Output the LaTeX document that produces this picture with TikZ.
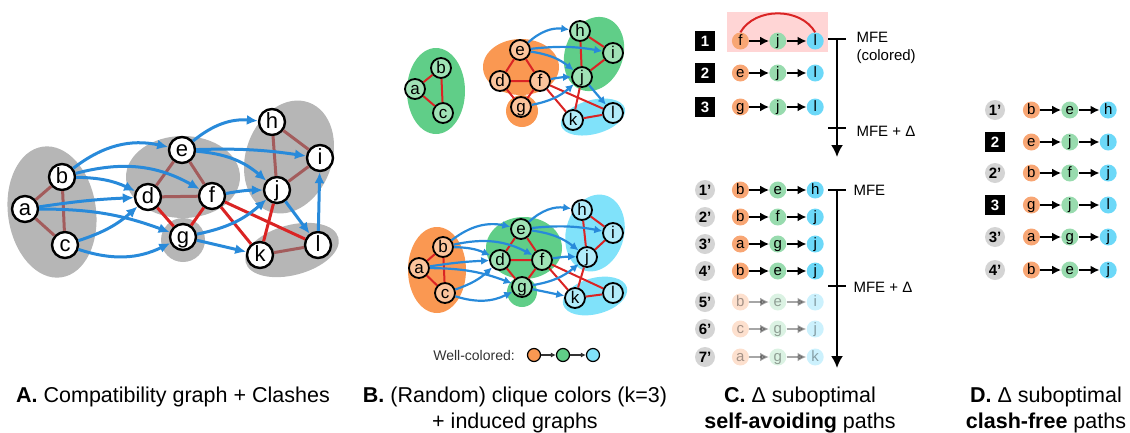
\documentclass[tikz,border=0pt]{standalone}
\usepackage{fontspec}
\setmainfont{Liberation Sans}
\usetikzlibrary{arrows.meta,positioning}
\definecolor{blobgray}{RGB}{182,182,182}
\definecolor{compedge}{RGB}{163,92,92}
\definecolor{clashred}{RGB}{218,36,36}
\definecolor{arcblue}{RGB}{40,138,218}
\definecolor{orangeblob}{RGB}{250,152,82}
\definecolor{greenblob}{RGB}{96,206,136}
\definecolor{cyanblob}{RGB}{128,226,250}
\definecolor{orangenode}{RGB}{251,196,156}
\definecolor{greennode}{RGB}{160,226,182}
\definecolor{cyannode}{RGB}{178,236,250}
\definecolor{pathorange}{RGB}{248,166,116}
\definecolor{pathgreen}{RGB}{152,219,174}
\definecolor{pathcyan}{RGB}{108,216,248}
\definecolor{mfepink}{RGB}{255,213,213}
\definecolor{ranklight}{RGB}{212,212,212}
\definecolor{legendtext}{RGB}{50,50,50}

\begin{document}
\begin{tikzpicture}[x=1pt,y=-1pt,
    vtx/.style={circle,draw,line width=2.4pt,fill=white,inner sep=0pt,minimum size=26pt,font=\fontsize{22}{22}\selectfont,text height=16pt,text depth=3pt},
    svtx/.style={circle,draw,line width=1.8pt,inner sep=0pt,minimum size=20pt,font=\fontsize{17}{17}\selectfont,text height=12.5pt,text depth=2.5pt},
    cmpedge/.style={line width=3pt,compedge},
    clashedge/.style={line width=3pt,clashred},
    bluearr/.style={-{Latex[length=11pt,width=10pt]},line width=3pt,arcblue},
    sclash/.style={line width=2pt,clashred},
    sblue/.style={-{Latex[length=8pt,width=8pt]},line width=2.2pt,arcblue},
    pathnode/.style={circle,inner sep=0pt,minimum size=17pt,font=\fontsize{15}{15}\selectfont,text height=11pt,text depth=2pt},
    patharr/.style={-{Latex[length=9pt,width=9pt]},line width=2.6pt},
    fadenode/.style={pathnode,opacity=0.35,text opacity=0.35},
    fadearr/.style={patharr,opacity=0.35},
    rankbox/.style={fill=black,text=white,minimum size=20pt,inner sep=0pt,font=\bfseries\fontsize{15}{15}\selectfont},
    rankcirc/.style={circle,fill=ranklight,minimum size=20pt,inner sep=0pt,font=\bfseries\fontsize{15}{15}\selectfont},
    timeline/.style={line width=2pt},
    mfelabel/.style={anchor=west,font=\fontsize{15}{18}\selectfont,align=left},
    legdot/.style={circle,draw,line width=1.2pt,minimum size=13pt,inner sep=0pt},
    legarr/.style={-{Latex[length=5pt,width=5pt]},line width=1.5pt,legendtext},
    paneltitle/.style={anchor=base,font=\fontsize{21.5}{26}\selectfont}
]
\useasboundingbox (0,0) rectangle (1130,432);

% A: compatibility graph
\fill[blobgray,rotate around={8:(52,212)}] (52,212) ellipse [x radius=44pt,y radius=66pt];
\fill[blobgray] (183,177) ellipse [x radius=57pt,y radius=41pt];
\fill[blobgray] (183,240) circle [radius=22pt];
\fill[blobgray,rotate around={-20:(289,157)}] (289,157) ellipse [x radius=43pt,y radius=58pt];
\fill[blobgray,rotate around={15:(292,250)}] (292,250) ellipse [x radius=48pt,y radius=25pt];

\node[vtx] (Aa) at (25,209) {a};
\node[vtx] (Ab) at (62,177) {b};
\node[vtx] (Ac) at (65,245) {c};
\node[vtx] (Ad) at (148,197) {d};
\node[vtx] (Ae) at (182,150) {e};
\node[vtx] (Af) at (212,196) {f};
\node[vtx] (Ag) at (183,237) {g};
\node[vtx] (Ah) at (272,122) {h};
\node[vtx] (Ai) at (320,158) {i};
\node[vtx] (Aj) at (277,190) {j};
\node[vtx] (Ak) at (260,255) {k};
\node[vtx] (Al) at (318,245) {l};

\draw[cmpedge] (Aa) -- (Ab) (Aa) -- (Ac) (Ab) -- (Ac) (Ad) -- (Ae) (Ae) -- (Af) (Ad) -- (Af) (Ah) -- (Ai) (Ah) -- (Aj) (Ai) -- (Aj) (Ak) -- (Al);
\draw[clashedge] (Ad) -- (Ag) (Af) -- (Ag) (Af) -- (Ak) (Af) -- (Al) (Aj) -- (Ak);

\draw[bluearr] (Ab) to[bend left=25] (Ae);
\draw[bluearr] (Ab) to[bend left=22] (Af);
\draw[bluearr] (Ab) to[bend left=12] (Ad);
\draw[bluearr] (Aa) to[bend left=3] (Ad);
\draw[bluearr] (Aa) to[bend left=10] (Ag);
\draw[bluearr] (Ac) to[bend right=12] (Ad);
\draw[bluearr] (Ac) to[bend right=22] (Ag);
\draw[bluearr] (Ae) to[bend left=22] (Ah);
\draw[bluearr] (Ae) to[bend left=5] (Ai);
\draw[bluearr] (Ae) to[bend left=18] (Aj);
\draw[bluearr] (Af) to[bend left=5] (Aj);
\draw[bluearr] (Ag) to[bend right=15] (Aj);
\draw[bluearr] (Ag) -- (Ak);
\draw[bluearr] (Aj) -- (Al);
\draw[bluearr] (Al) -- (Ai);

% B: random clique colors, top
\fill[greenblob] (436,91) ellipse [x radius=29pt,y radius=43pt];
\fill[orangeblob] (521,67) ellipse [x radius=38pt,y radius=28pt];
\fill[orangeblob] (522,111) circle [radius=16pt];
\fill[greenblob,rotate around={-20:(594,54)}] (594,54) ellipse [x radius=29pt,y radius=38pt];
\fill[cyanblob,rotate around={15:(593,117)}] (593,117) ellipse [x radius=33pt,y radius=17pt];

\node[svtx,fill=greennode] (Ta) at (415,89) {a};
\node[svtx,fill=greennode] (Tb) at (441,68) {b};
\node[svtx,fill=greennode] (Tc) at (443,113) {c};
\node[svtx,fill=orangenode] (Td) at (500,81) {d};
\node[svtx,fill=orangenode] (Te) at (520,50) {e};
\node[svtx,fill=orangenode] (Tf) at (540,81) {f};
\node[svtx,fill=orangenode] (Tg) at (521,107) {g};
\node[svtx,fill=greennode] (Th) at (580,31) {h};
\node[svtx,fill=greennode] (Ti) at (613,53) {i};
\node[svtx,fill=greennode] (Tj) at (582,77) {j};
\node[svtx,fill=cyannode] (Tk) at (573,120) {k};
\node[svtx,fill=cyannode] (Tl) at (613,113) {l};

\draw[sclash] (Ta) -- (Tb) (Ta) -- (Tc) (Tb) -- (Tc) (Td) -- (Te) (Te) -- (Tf) (Td) -- (Tf) (Td) -- (Tg) (Tf) -- (Tg) (Th) -- (Ti) (Th) -- (Tj) (Ti) -- (Tj) (Tk) -- (Tl) (Tf) -- (Tk) (Tf) -- (Tl) (Tj) -- (Tk);

\draw[sblue] (Te) to[bend left=25] (Th);
\draw[sblue] (Te) to[bend left=8] (Ti);
\draw[sblue] (Te) to[bend left=15] (Tj);
\draw[sblue] (Tf) to[bend left=5] (Tj);
\draw[sblue] (Tg) to[bend right=15] (Tj);
\draw[sblue] (Tj) -- (Tl);

% B: well-colored, bottom
\fill[orangeblob] (437,270) ellipse [x radius=29pt,y radius=43pt];
\fill[greenblob] (524,248) ellipse [x radius=38pt,y radius=31pt];
\fill[greenblob] (522,292) circle [radius=15pt];
\fill[cyanblob,rotate around={-15:(595,233)}] (595,233) ellipse [x radius=29pt,y radius=39pt];
\fill[cyanblob,rotate around={15:(595,296)}] (595,296) ellipse [x radius=33pt,y radius=18pt];

\node[svtx,fill=orangenode] (Wa) at (419,268) {a};
\node[svtx,fill=orangenode] (Wb) at (443,247) {b};
\node[svtx,fill=orangenode] (Wc) at (445,293) {c};
\node[svtx,fill=greennode] (Wd) at (500,260) {d};
\node[svtx,fill=greennode] (We) at (521,229) {e};
\node[svtx,fill=greennode] (Wf) at (542,260) {f};
\node[svtx,fill=greennode] (Wg) at (522,287) {g};
\node[svtx,fill=cyannode] (Wh) at (582,210) {h};
\node[svtx,fill=cyannode] (Wi) at (613,233) {i};
\node[svtx,fill=cyannode] (Wj) at (587,257) {j};
\node[svtx,fill=cyannode] (Wk) at (575,298) {k};
\node[svtx,fill=cyannode] (Wl) at (613,293) {l};

\draw[sclash] (Wa) -- (Wb) (Wa) -- (Wc) (Wb) -- (Wc) (Wd) -- (We) (We) -- (Wf) (Wd) -- (Wf) (Wd) -- (Wg) (Wf) -- (Wg) (Wh) -- (Wi) (Wh) -- (Wj) (Wi) -- (Wj) (Wk) -- (Wl) (Wf) -- (Wk) (Wf) -- (Wl) (Wj) -- (Wk);

\draw[sblue] (Wb) to[bend left=25] (We);
\draw[sblue] (Wb) to[bend left=20] (Wf);
\draw[sblue] (Wb) to[bend left=12] (Wd);
\draw[sblue] (Wa) to[bend left=3] (Wd);
\draw[sblue] (Wa) to[bend left=10] (Wg);
\draw[sblue] (Wc) to[bend right=12] (Wd);
\draw[sblue] (Wc) to[bend right=22] (Wg);
\draw[sblue] (We) to[bend left=25] (Wh);
\draw[sblue] (We) to[bend left=8] (Wi);
\draw[sblue] (We) to[bend left=15] (Wj);
\draw[sblue] (Wf) to[bend left=5] (Wj);
\draw[sblue] (Wg) to[bend right=15] (Wj);
\draw[sblue] (Wg) -- (Wk);

\node[font=\fontsize{14}{14}\selectfont,text=legendtext] (wellTxt) at (474,355) {Well-colored:};
\node[legdot,fill=orangeblob] (legO) at (534,355) {};
\node[legdot,fill=greenblob] (legG) at (563,355) {};
\node[legdot,fill=cyanblob] (legC) at (593,355) {};
\draw[legarr] (legO) -- (legG);
\draw[legarr] (legG) -- (legC);

% C: self-avoiding paths, colored
\fill[mfepink] (727,12) rectangle (828,52);
\node[rankbox] (c1) at (705,41) {1};
\node[pathnode,fill=pathorange,right=16.5pt of c1] (c1a) {f};
\node[pathnode,fill=pathgreen,right=20pt of c1a] (c1b) {j};
\node[pathnode,fill=pathcyan,right=20pt of c1b] (c1c) {l};
\draw[patharr] (c1a) -- (c1b); \draw[patharr] (c1b) -- (c1c);
\draw[line width=2pt,clashred] (c1a.north) to[bend left=60] (c1c.north);

\node[rankbox] (c2) at (705,73) {2};
\node[pathnode,fill=pathorange,right=16.5pt of c2] (c2a) {e};
\node[pathnode,fill=pathgreen,right=20pt of c2a] (c2b) {j};
\node[pathnode,fill=pathcyan,right=20pt of c2b] (c2c) {l};
\draw[patharr] (c2a) -- (c2b); \draw[patharr] (c2b) -- (c2c);

\node[rankbox] (c3) at (705,107) {3};
\node[pathnode,fill=pathorange,right=16.5pt of c3] (c3a) {g};
\node[pathnode,fill=pathgreen,right=20pt of c3a] (c3b) {j};
\node[pathnode,fill=pathcyan,right=20pt of c3b] (c3c) {l};
\draw[patharr] (c3a) -- (c3b); \draw[patharr] (c3b) -- (c3c);

\coordinate (topMfe) at (837,39);
\coordinate (topDelta) at (837,128);
\coordinate (topEnd) at (837,157);
\draw[timeline,-{Latex[length=12pt,width=12pt]}] (topMfe) -- (topEnd);
\draw[timeline] ([xshift=-9pt]topMfe) -- ([xshift=9pt]topMfe);
\draw[timeline] ([xshift=-9pt]topDelta) -- ([xshift=9pt]topDelta);
\node[mfelabel] (topMfeTxt) at (853,48) {MFE\\(colored)};
\node[mfelabel] (topDeltaTxt) at (853,131) {MFE + Δ};

% C: self-avoiding paths, any
\node[rankcirc] (p1) at (705,190) {1'};
\node[pathnode,fill=pathorange,right=16.5pt of p1] (p1a) {b};
\node[pathnode,fill=pathgreen,right=20pt of p1a] (p1b) {e};
\node[pathnode,fill=pathcyan,right=20pt of p1b] (p1c) {h};
\draw[patharr] (p1a) -- (p1b); \draw[patharr] (p1b) -- (p1c);

\node[rankcirc] (p2) at (705,217) {2'};
\node[pathnode,fill=pathorange,right=16.5pt of p2] (p2a) {b};
\node[pathnode,fill=pathgreen,right=20pt of p2a] (p2b) {f};
\node[pathnode,fill=pathcyan,right=20pt of p2b] (p2c) {j};
\draw[patharr] (p2a) -- (p2b); \draw[patharr] (p2b) -- (p2c);

\node[rankcirc] (p3) at (705,244) {3'};
\node[pathnode,fill=pathorange,right=16.5pt of p3] (p3a) {a};
\node[pathnode,fill=pathgreen,right=20pt of p3a] (p3b) {g};
\node[pathnode,fill=pathcyan,right=20pt of p3b] (p3c) {j};
\draw[patharr] (p3a) -- (p3b); \draw[patharr] (p3b) -- (p3c);

\node[rankcirc] (p4) at (705,271) {4'};
\node[pathnode,fill=pathorange,right=16.5pt of p4] (p4a) {b};
\node[pathnode,fill=pathgreen,right=20pt of p4a] (p4b) {e};
\node[pathnode,fill=pathcyan,right=20pt of p4b] (p4c) {j};
\draw[patharr] (p4a) -- (p4b); \draw[patharr] (p4b) -- (p4c);

\node[rankcirc] (p5) at (705,302) {5'};
\node[fadenode,fill=pathorange,right=16.5pt of p5] (p5a) {b};
\node[fadenode,fill=pathgreen,right=20pt of p5a] (p5b) {e};
\node[fadenode,fill=pathcyan,right=20pt of p5b] (p5c) {i};
\draw[fadearr] (p5a) -- (p5b); \draw[fadearr] (p5b) -- (p5c);

\node[rankcirc] (p6) at (705,329) {6'};
\node[fadenode,fill=pathorange,right=16.5pt of p6] (p6a) {c};
\node[fadenode,fill=pathgreen,right=20pt of p6a] (p6b) {g};
\node[fadenode,fill=pathcyan,right=20pt of p6b] (p6c) {j};
\draw[fadearr] (p6a) -- (p6b); \draw[fadearr] (p6b) -- (p6c);

\node[rankcirc] (p7) at (705,357) {7'};
\node[fadenode,fill=pathorange,right=16.5pt of p7] (p7a) {a};
\node[fadenode,fill=pathgreen,right=20pt of p7a] (p7b) {g};
\node[fadenode,fill=pathcyan,right=20pt of p7b] (p7c) {k};
\draw[fadearr] (p7a) -- (p7b); \draw[fadearr] (p7b) -- (p7c);

\coordinate (botMfe) at (837,190);
\coordinate (botDelta) at (837,286);
\coordinate (botEnd) at (837,368);
\draw[timeline,-{Latex[length=12pt,width=12pt]}] (botMfe) -- (botEnd);
\draw[timeline] ([xshift=-9pt]botMfe) -- ([xshift=9pt]botMfe);
\draw[timeline] ([xshift=-9pt]botDelta) -- ([xshift=9pt]botDelta);
\node[mfelabel] (botMfeTxt) at (850,190) {MFE};
\node[mfelabel] (botDeltaTxt) at (850,287) {MFE + Δ};

% D: clash-free paths
\node[rankcirc] (d1) at (995,110) {1'};
\node[pathnode,fill=pathorange,right=17.5pt of d1] (d1a) {b};
\node[pathnode,fill=pathgreen,right=21pt of d1a] (d1b) {e};
\node[pathnode,fill=pathcyan,right=21pt of d1b] (d1c) {h};
\draw[patharr] (d1a) -- (d1b); \draw[patharr] (d1b) -- (d1c);

\node[rankbox] (d2) at (995,142) {2};
\node[pathnode,fill=pathorange,right=17.5pt of d2] (d2a) {e};
\node[pathnode,fill=pathgreen,right=21pt of d2a] (d2b) {j};
\node[pathnode,fill=pathcyan,right=21pt of d2b] (d2c) {l};
\draw[patharr] (d2a) -- (d2b); \draw[patharr] (d2b) -- (d2c);

\node[rankcirc] (d3) at (995,173) {2'};
\node[pathnode,fill=pathorange,right=17.5pt of d3] (d3a) {b};
\node[pathnode,fill=pathgreen,right=21pt of d3a] (d3b) {f};
\node[pathnode,fill=pathcyan,right=21pt of d3b] (d3c) {j};
\draw[patharr] (d3a) -- (d3b); \draw[patharr] (d3b) -- (d3c);

\node[rankbox] (d4) at (995,205) {3};
\node[pathnode,fill=pathorange,right=17.5pt of d4] (d4a) {g};
\node[pathnode,fill=pathgreen,right=21pt of d4a] (d4b) {j};
\node[pathnode,fill=pathcyan,right=21pt of d4b] (d4c) {l};
\draw[patharr] (d4a) -- (d4b); \draw[patharr] (d4b) -- (d4c);

\node[rankcirc] (d5) at (995,237) {3'};
\node[pathnode,fill=pathorange,right=17.5pt of d5] (d5a) {a};
\node[pathnode,fill=pathgreen,right=21pt of d5a] (d5b) {g};
\node[pathnode,fill=pathcyan,right=21pt of d5b] (d5c) {j};
\draw[patharr] (d5a) -- (d5b); \draw[patharr] (d5b) -- (d5c);

\node[rankcirc] (d6) at (995,270) {4'};
\node[pathnode,fill=pathorange,right=17.5pt of d6] (d6a) {b};
\node[pathnode,fill=pathgreen,right=21pt of d6a] (d6b) {e};
\node[pathnode,fill=pathcyan,right=21pt of d6b] (d6c) {j};
\draw[patharr] (d6a) -- (d6b); \draw[patharr] (d6b) -- (d6c);

% panel titles
\node[paneltitle] (capA) at (173,402) {\textbf{A.} Compatibility graph + Clashes};
\node[paneltitle] (capB1) at (515,402) {\textbf{B.} (Random) clique colors (k=3)};
\node[paneltitle] (capB2) at (515,428) {+ induced graphs};
\node[paneltitle] (capC1) at (800,402) {\textbf{C.} Δ suboptimal};
\node[paneltitle] (capC2) at (800,428) {\textbf{self-avoiding} paths};
\node[paneltitle] (capD1) at (1046,402) {\textbf{D.} Δ suboptimal};
\node[paneltitle] (capD2) at (1046,428) {\textbf{clash-free} paths};
\end{tikzpicture}
\end{document}
